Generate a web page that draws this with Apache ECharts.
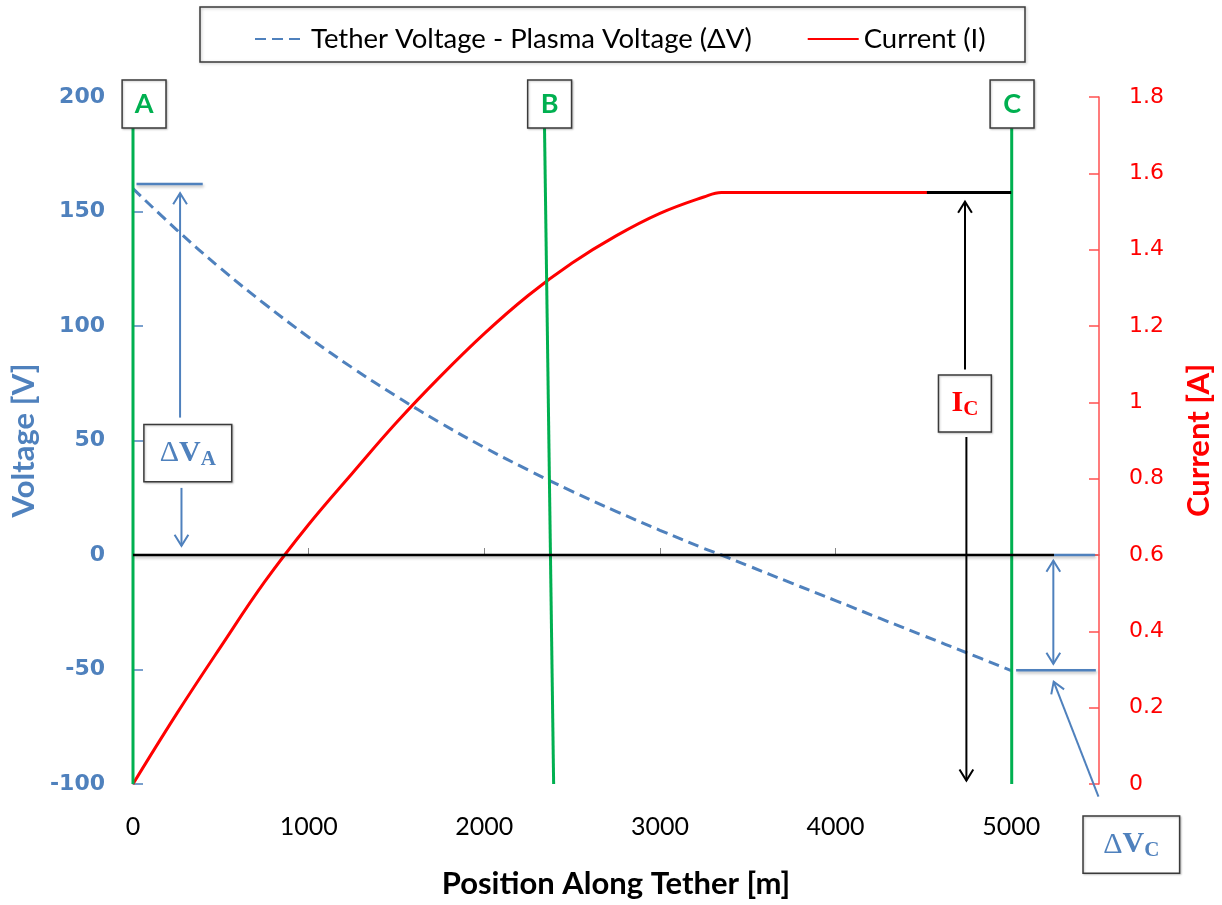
<!DOCTYPE html>
<html>
<head>
<meta charset="utf-8">
<script src="https://cdn.jsdelivr.net/npm/echarts@6/dist/echarts.min.js"></script>
<style>
html,body{margin:0;padding:0;background:#fff;}
#chart{width:1222px;height:905px;}
</style>
</head>
<body>
<div id="chart"></div>
<script>
// ---- Data ----
const positions = [0,250,500,750,1000,1250,1500,1750,2000,2250,2500,2750,3000,3250,3350,3500,3750,4000,4250,4500,4750,5000];
const voltage   = [160,141.9,125.1,109.6,95.1,81.7,69.3,57.7,47.0,37.1,27.8,19.1,10.8,2.9,0,-4.6,-12.3,-19.9,-27.6,-35.2,-42.8,-50.5];
const current   = [0,0.185,0.36,0.53,0.68,0.815,0.947,1.068,1.18,1.28,1.365,1.436,1.495,1.538,1.55,1.55,1.55,1.55,1.55,1.55,1.55,1.55];
const xTicks = [0,1000,2000,3000,4000,5000];
const voltageTicks = [-100,-50,0,50,100,150,200];
const currentTicks = [0,0.2,0.4,0.6,0.8,1,1.2,1.4,1.6,1.8];

// marker lines A, B, C (position along tether at top / bottom)
const markerNames = ['A','B','C'];
const markerTopX = [0, 2343, 5003];
const markerBottomX = [0, 2395, 5003];
const markerTopV = 186.5;
const markerBottomV = -100;
const markerBoxX = [[-62,188],[2247,2497],[4880,5130]];
const markerBoxV = [207.4,186.5];

const seriesNames = ['Tether Voltage - Plasma Voltage (ΔV)','Current (I)'];

const BLUE = '#4f81bd', RED = '#ff0000', GREEN = '#00b050';

const chart = echarts.init(document.getElementById('chart'), null, {renderer:'canvas'});

const xyV = positions.map((x,i)=>[x, voltage[i]]);
const xyI = positions.map((x,i)=>[x, current[i]]);

const markerSeries = markerNames.map((n,i)=>({
  name:'marker'+n, type:'line', yAxisIndex:0, symbol:'none', silent:true, z:5,
  lineStyle:{color:GREEN, width:3},
  data:[[markerTopX[i], markerTopV],[markerBottomX[i], markerBottomV]]
}));

const option = {
  animation:false,
  backgroundColor:'#fff',
  grid:{left:133, right:120, top:97, bottom:121, containLabel:false},
  legend:{
    data:seriesNames, left:249, top:20, itemWidth:51, itemHeight:14, itemGap:55,
    itemStyle:{opacity:0},
    textStyle:{fontFamily:'Lato', fontSize:27.5, color:'#000'}
  },
  xAxis:{
    type:'value', min:0, max:5500, interval:1000,
    name:'Position Along Tether [m]', nameLocation:'middle', nameGap:84,
    nameTextStyle:{fontFamily:'Lato', fontWeight:'bold', fontSize:31, color:'#000'},
    axisLine:{lineStyle:{color:'#868686', width:1.5}},
    axisTick:{inside:true, length:7, lineStyle:{color:'#868686'}},
    axisLabel:{showMaxLabel:false, fontFamily:'Lato', fontSize:25, color:'#000', margin:30,
      formatter:(v)=>String(v)},
    splitLine:{show:false}
  },
  yAxis:[{
    type:'value', min:-100, max:200, interval:50, position:'left',
    name:'Voltage [V]', nameLocation:'middle', nameGap:88,
    nameTextStyle:{fontFamily:'Lato', fontWeight:'bold', fontSize:31, color:BLUE},
    axisLine:{show:true, lineStyle:{color:'#868686', width:1.5}},
    axisTick:{show:true, inside:true, length:10, lineStyle:{color:BLUE, width:1.5}},
    axisLabel:{fontFamily:'DejaVu Sans', fontWeight:'bold', fontSize:22, color:BLUE, margin:28},
    splitLine:{show:false}
  },{
    type:'value', min:0, max:1.8, interval:0.2, position:'right',
    name:'Current [A]', nameLocation:'middle', nameGap:84,
    nameTextStyle:{fontFamily:'Lato', fontWeight:'bold', fontSize:31, color:RED},
    axisLine:{show:true, lineStyle:{color:'#ff5050', width:1.5}},
    axisTick:{show:true, inside:true, length:10, lineStyle:{color:'#ff5050', width:1.5}},
    axisLabel:{fontFamily:'DejaVu Sans', fontSize:22, color:RED, margin:30},
    splitLine:{show:false}
  }],
  series:[
    {name:seriesNames[0], type:'line', yAxisIndex:0, symbol:'none', z:3, smooth:0.4,
     lineStyle:{color:BLUE, width:3, type:[11,6]}, itemStyle:{color:BLUE}, data:xyV},
    {name:seriesNames[1], type:'line', yAxisIndex:1, symbol:'none', z:3, smooth:0.4,
     lineStyle:{color:RED, width:3}, itemStyle:{color:RED}, data:xyI},
    ...markerSeries
  ]
};
chart.setOption(option);

// ---- Annotations, positioned in data coordinates ----
const pV = (x,v)=>chart.convertToPixel({xAxisIndex:0,yAxisIndex:0},[x,v]);
const pI = (x,i)=>chart.convertToPixel({xAxisIndex:0,yAxisIndex:1},[x,i]);

const shadow = {shadowColor:'rgba(0,0,0,0.25)', shadowBlur:3, shadowOffsetX:1, shadowOffsetY:2};
const g = [];
function line(a,b,color,width,extra){
  g.push({type:'line', shape:{x1:a[0],y1:a[1],x2:b[0],y2:b[1]}, style:Object.assign({stroke:color, lineWidth:width}, extra||{}), z:20});
}
function head(tip, from, color){
  const dx = tip[0]-from[0], dy = tip[1]-from[1];
  const len = Math.hypot(dx,dy); const ux=dx/len, uy=dy/len;
  const L=13, th=Math.PI/180*32;
  const c=Math.cos(th), s=Math.sin(th);
  const p1=[tip[0]-L*(ux*c-uy*s), tip[1]-L*(uy*c+ux*s)];
  const p2=[tip[0]-L*(ux*c+uy*s), tip[1]-L*(uy*c-ux*s)];
  g.push({type:'polyline', shape:{points:[p1,tip,p2]}, style:{stroke:color, lineWidth:2, fill:null}, z:20});
}
function arrow(a,b,color,width,both){
  line(a,b,color,width); head(b,a,color); if(both) head(a,b,color);
}
function box(p1,p2,rich,text){
  const x=Math.min(p1[0],p2[0]), y=Math.min(p1[1],p2[1]);
  const w=Math.abs(p2[0]-p1[0]), h=Math.abs(p2[1]-p1[1]);
  g.push({type:'rect', shape:{x:x,y:y,width:w,height:h},
    style:{fill:'#fff', stroke:'#3a3a3a', lineWidth:1.5, shadowColor:'rgba(0,0,0,0.2)', shadowBlur:2, shadowOffsetX:1, shadowOffsetY:1}, z:25});
  g.push({type:'text', x:x+w/2, y:y+h/2, z:26,
    style:{text:text, rich:rich, align:'center', verticalAlign:'middle'}});
}

// legend frame
g.push({type:'rect', shape:{x:200,y:7,width:825,height:55},
  style:{fill:null, stroke:'#3a3a3a', lineWidth:1.5, shadowColor:'rgba(0,0,0,0.25)', shadowBlur:3, shadowOffsetX:1, shadowOffsetY:1}, z:30});

// zero line
line(pV(0,0), pV(5244,0), '#000', 2.5, shadow);
line(pV(5244,0), pV(5477,0), BLUE, 2.5, shadow);

// ΔV_A annotation
line(pV(20,162), pV(397,162), BLUE, 2.5, shadow);
arrow(pV(268,60), pV(268,158), BLUE, 2);
arrow(pV(276,29.3), pV(276,4), BLUE, 2);
const serifRich = (col)=>({
  m:{fontFamily:'Liberation Serif', fontWeight:'bold', fontSize:30, fill:col, color:col},
  d:{fontFamily:'Liberation Serif', fontSize:30, fill:col, color:col},
  s:{fontFamily:'Liberation Serif', fontWeight:'bold', fontSize:21, fill:col, color:col, padding:[12,0,0,0]}
});
box(pV(62,57), pV(562,32), serifRich(BLUE), '{d|Δ}{m|V}{s|A}');

// I_C annotation
line(pI(4520,1.55), pI(5000,1.55), '#000', 3);
arrow(pV(4737,81), pV(4737,154.3), '#000', 2);
arrow(pV(4745,51.5), pV(4745,-98.5), '#000', 2);
box(pV(4586,78.6), pV(4887,53.7), serifRich(RED), '{m|I}{s|C}');

// ΔV_C annotation
line(pV(5028,-50.3), pV(5482,-50.3), BLUE, 2.5, shadow);
arrow(pV(5240,-2.5), pV(5240,-47.5), BLUE, 2, true);
arrow(pV(5497,-105.5), pV(5242,-55.3), BLUE, 2);
box(pV(5409,-114), pV(5959,-139), serifRich(BLUE), '{d|Δ}{m|V}{s|C}');

// A, B, C labels
markerNames.forEach((n,i)=>{
  box(pV(markerBoxX[i][0], markerBoxV[0]), pV(markerBoxX[i][1], markerBoxV[1]),
    {t:{fontFamily:'Lato', fontWeight:'bold', fontSize:27, fill:GREEN, color:GREEN}}, '{t|'+n+'}');
});

chart.setOption({graphic:g});
</script>
</body>
</html>
